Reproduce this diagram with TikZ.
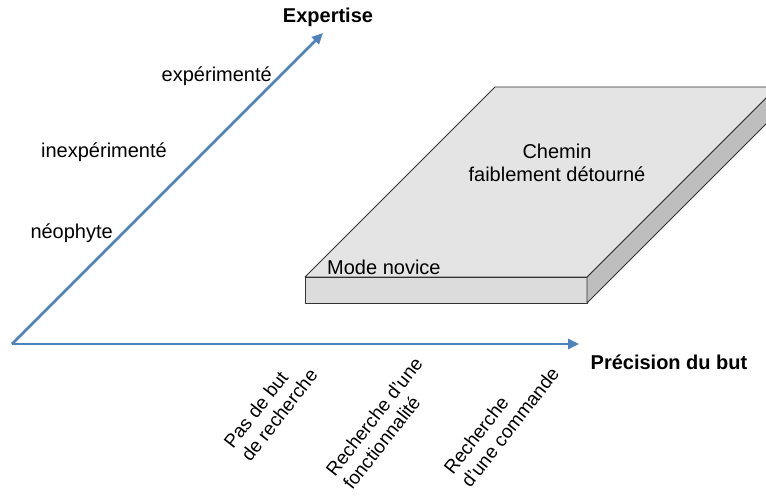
\documentclass[tikz,border=0pt]{standalone}
\usepackage{fontspec}
\setmainfont{Liberation Sans}
\usetikzlibrary{arrows.meta}
\definecolor{axisblue}{RGB}{79,129,189}
\definecolor{topgray}{RGB}{228,228,228}
\definecolor{frontgray}{RGB}{220,220,220}
\definecolor{sidegray}{RGB}{190,190,190}
\tikzset{
  axis/.style={draw=axisblue, line width=2.5pt, -{Triangle[length=11pt,width=10pt]}},
  lbl/.style={font=\fontsize{20}{23}\selectfont, inner sep=0pt},
  boldlbl/.style={font=\fontsize{20}{23}\selectfont\bfseries, inner sep=0pt},
  ticklbl/.style={font=\fontsize{19}{22}\selectfont, inner sep=0pt, rotate=52, align=left, anchor=north west},
  slab/.style={draw=black!80, line width=0.8pt, line join=round}
}

\begin{document}
\begin{tikzpicture}[x=1pt,y=-1pt]
\clip (0,0) rectangle (766,497);

\filldraw[slab, fill=frontgray] (305,277) -- (587,277) -- (587,303) -- (305,303) -- cycle;
\filldraw[slab, fill=sidegray] (587,277) -- (777,87) -- (777,113) -- (587,303) -- cycle;
\filldraw[slab, fill=topgray] (305,277) -- (495,87) -- (777,87) -- (587,277) -- cycle;

\node[lbl, align=center] (chemin) at (557,163) {Chemin\\faiblement détourné};
\node[lbl, anchor=west] (novice) at (327,267) {Mode novice};

\coordinate (O) at (12,344);
\coordinate (X) at (579,344);
\coordinate (Y) at (323,33);

\draw[axis] (O) -- (X);
\draw[axis] (O) -- (Y);

\node[boldlbl] (expertise) at (328,17) {Expertise};
\node[boldlbl] (precision) at (669,362) {Précision du but};

\node[lbl, anchor=east] (experimente) at (272,76) {expérimenté};
\node[lbl, anchor=east] (inexperimente) at (167,152) {inexpérimenté};
\node[lbl, anchor=east] (neophyte) at (113,233) {néophyte};

\node[ticklbl] (sansbut) at (222,441) {Pas de but\\de recherche};
\node[ticklbl] (fonction) at (324,469) {Recherche d'une\\fonctionnalité};
\node[ticklbl] (commande) at (442,467) {Recherche\\d'une commande};

\end{tikzpicture}
\end{document}
